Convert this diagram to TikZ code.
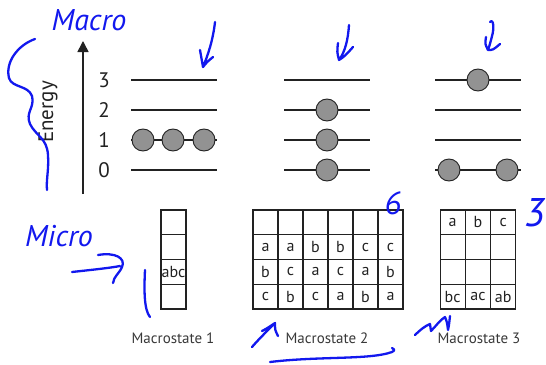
\documentclass[tikz,border=0pt]{standalone}
\usepackage{fontspec}
\setmainfont{PT Sans}
\usetikzlibrary{arrows.meta}
\definecolor{ink}{RGB}{34,34,34}
\definecolor{ballgray}{RGB}{146,146,146}
\definecolor{pen}{RGB}{18,24,238}
\begin{document}
\begin{tikzpicture}[x=1pt,y=-1pt,
  level/.style={draw=ink,line width=1.8pt},
  ball/.style={circle,draw=ink,line width=0.9pt,fill=ballgray,minimum size=22pt,inner sep=0pt},
  lvlnum/.style={font=\fontsize{21}{21}\selectfont,text=ink},
  cell/.style={draw=ink,line width=1.3pt,minimum width=25pt,minimum height=24.75pt,inner sep=0pt,font=\fontsize{16}{16}\selectfont,text=ink},
  mlabel/.style={font=\fontsize{15}{15}\selectfont,text=ink!90},
  hand/.style={text=pen,font=\fontsize{30}{30}\selectfont\itshape},
  pen/.style={draw=pen,line width=2.3pt,line cap=round,line join=round}]
\useasboundingbox (0,0) rectangle (546,364);
% energy axis
\coordinate (ax0) at (83,194);
\coordinate (ax1) at (83,41);
\draw[ink,line width=1.6pt,-{Triangle[length=11pt,width=11pt]}] (ax0) -- (ax1);
\node[rotate=90,font=\fontsize{21}{21}\selectfont,text=ink] (energy) at (48,112) {Energy};
\foreach \lv/\yy in {3/80,2/110,1/140,0/170}{
  \node[lvlnum] (n\lv) at (104,\yy) {\lv};
  \coordinate (a\lv L) at (131,\yy); \coordinate (a\lv R) at (217,\yy);
  \coordinate (b\lv L) at (284,\yy); \coordinate (b\lv R) at (370,\yy);
  \coordinate (c\lv L) at (435,\yy); \coordinate (c\lv R) at (521,\yy);
  \draw[level] (a\lv L) -- (a\lv R);
  \draw[level] (b\lv L) -- (b\lv R);
  \draw[level] (c\lv L) -- (c\lv R);
}
% balls
\node[ball] (m1a) at (143,140) {};
\node[ball] (m1b) at (173,140) {};
\node[ball] (m1c) at (204,140) {};
\node[ball] (m2a) at (327,110) {};
\node[ball] (m2b) at (327,140) {};
\node[ball] (m2c) at (327,170) {};
\node[ball] (m3a) at (478,80) {};
\node[ball] (m3b) at (449,170) {};
\node[ball] (m3c) at (507,170) {};
% macrostate 1 grid
\foreach \r/\t in {1/,2/,3/abc,4/}{
  \node[cell] (g1-\r) at (173.5,{210+(\r-0.5)*24.75}) {\t};
}
% macrostate 2 grid
\foreach \c/\ta/\tb/\tc in {1/a/b/c,2/a/c/b,3/b/a/c,4/b/c/a,5/c/a/b,6/c/b/a}{
  \node[cell] (g2-1-\c) at ({253+(\c-0.5)*25},{210+0.5*24.75}) {};
  \node[cell] (g2-2-\c) at ({253+(\c-0.5)*25},{210+1.5*24.75}) {\ta};
  \node[cell] (g2-3-\c) at ({253+(\c-0.5)*25},{210+2.5*24.75}) {\tb};
  \node[cell] (g2-4-\c) at ({253+(\c-0.5)*25},{210+3.5*24.75}) {\tc};
}
% macrostate 3 grid
\foreach \c/\ta/\td in {1/a/bc,2/b/ac,3/c/ab}{
  \node[cell] (g3-1-\c) at ({440+(\c-0.5)*25.3},{210+0.5*24.75}) {\ta};
  \node[cell] (g3-2-\c) at ({440+(\c-0.5)*25.3},{210+1.5*24.75}) {};
  \node[cell] (g3-3-\c) at ({440+(\c-0.5)*25.3},{210+2.5*24.75}) {};
  \node[cell] (g3-4-\c) at ({440+(\c-0.5)*25.3},{210+3.5*24.75}) {\td};
}
\node[mlabel] (L1) at (173,338) {Macrostate 1};
\node[mlabel] (L2) at (327,338) {Macrostate 2};
\node[mlabel] (L3) at (479,338) {Macrostate 3};
% handwritten annotations
\node[hand] (macro) at (89,20) {Macro};
\node[hand] (micro) at (59,236) {Micro};
\node[hand,font=\fontsize{32}{32}\selectfont\itshape] (six) at (393,203) {6};
\node[hand,font=\fontsize{40}{40}\selectfont\itshape] (three) at (535,213) {3};
\draw[pen] (35,39) .. controls (18,45) and (5,62) .. (9,78)
  .. controls (12,88) and (28,85) .. (32,96)
  .. controls (35,108) and (25,112) .. (30,124)
  .. controls (36,136) and (47,138) .. (48,155)
  .. controls (49,170) and (46,180) .. (47,190);
% arrows above levels
\draw[pen] (215,22) .. controls (213,40) and (208,55) .. (203,67) (200,50) .. controls (201,58) .. (203,67) .. controls (207,62) .. (213,57);
\draw[pen] (349,25) .. controls (348,40) and (345,52) .. (339,60) (338,43) .. controls (337,52) .. (339,60) .. controls (345,56) .. (353,47);
\draw[pen] (490,22) .. controls (494,18) and (494,30) .. (492,36) .. controls (490,44) .. (488,50) (486,37) .. controls (485,44) .. (488,50) .. controls (493,50) .. (500,44);
% micro arrow
\draw[pen] (72,272) .. controls (90,270) and (110,268) .. (120,266)
  (98,255) .. controls (115,252) and (126,258) .. (122,267)
  .. controls (119,274) and (114,276) .. (113,283);
\draw[pen] (145,270) .. controls (144,290) and (144,310) .. (150,317);
\draw[pen] (252,347) .. controls (258,340) and (268,330) .. (275,323)
  (262,331) .. controls (268,328) and (272,325) .. (275,323) .. controls (275,330) .. (278,336);
\draw[pen] (270,362) .. controls (320,356) and (370,360) .. (392,352) .. controls (395,350) .. (392,348);
\draw[pen] (415,335) .. controls (420,330) and (425,326) .. (430,324) .. controls (430,328) .. (431,331)
  .. controls (436,326) and (440,320) .. (445,317) .. controls (447,322) .. (448,330)
  .. controls (449,325) .. (450,316);
\end{tikzpicture}
\end{document}
